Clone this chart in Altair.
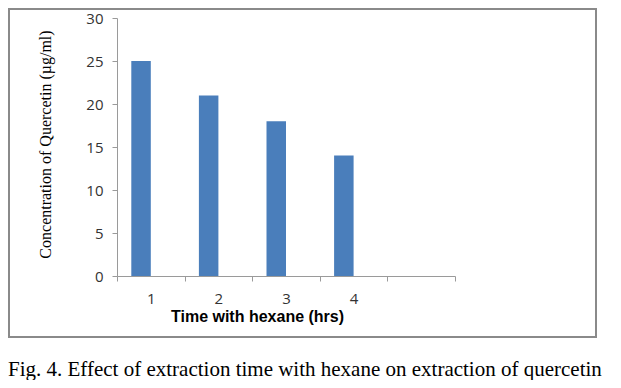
import altair as alt
import pandas as pd

# ---- data ----
categories = ["1", "2", "3", "4"]
values = [25, 21, 18, 14]
x_domain = ["1", "2", "3", "4", ""]
y_ticks = [0, 5, 10, 15, 20, 25, 30]
x_title = "Time with hexane (hrs)"
y_title = "Concentration of Quercetin (µg/ml)"
caption = "Fig. 4. Effect of extraction time with hexane on extraction of quercetin"

df = pd.DataFrame({"time": categories, "conc": values})

W, H = 338, 258
AXIS_GREY = "#9a9a9a"

bars = alt.Chart(df).mark_bar(color="#4A7EBB", width=19.5, xOffset=-9.75).encode(
    x=alt.X(
        "time:N",
        scale=alt.Scale(domain=x_domain, paddingInner=0, paddingOuter=0),
        axis=alt.Axis(
            title=x_title, labelAngle=0, tickBand="extent", tickSize=5, labelPadding=10,
            domainColor=AXIS_GREY, tickColor=AXIS_GREY,
            labelFont="Open Sans", labelFontSize=15, labelColor="#333333",
            titleFont="Liberation Sans", titleFontSize=16, titleFontWeight="bold",
            titleColor="#000000", titleX=140, titleY=45, titleAlign="center",
            titleBaseline="alphabetic",
        ),
    ),
    y=alt.Y(
        "conc:Q",
        scale=alt.Scale(domain=[0, 30], nice=False),
        axis=alt.Axis(
            title=y_title, values=y_ticks, grid=False, tickSize=5, labelPadding=9,
            domainColor=AXIS_GREY, tickColor=AXIS_GREY,
            labelFont="Open Sans", labelFontSize=15, labelColor="#333333",
            titleFont="Liberation Serif", titleFontSize=16, titleFontWeight="normal",
            titleColor="#000000", titleAngle=270, titleX=-72, titleY=126,
            titleAlign="center", titleBaseline="middle",
        ),
    ),
)

frame = alt.Chart(pd.DataFrame({"k": [0]})).mark_rect(
    fillOpacity=0, stroke="#8a8a8a", strokeWidth=2
).encode(
    x=alt.value(-108), x2=alt.value(479), y=alt.value(-9), y2=alt.value(319)
)

cap = alt.Chart(pd.DataFrame({"k": [0]})).mark_text(
    align="left", baseline="alphabetic", font="Liberation Serif", fontSize=21, color="#000000"
).encode(
    text=alt.value(caption), x=alt.value(-109), y=alt.value(358)
)

chart = alt.layer(frame, bars, cap).properties(
    width=W,
    height=H,
    padding={"left": 109, "top": 10, "right": 158, "bottom": 104},
    autosize=alt.AutoSizeParams(type="none"),
).configure_view(stroke=None)

chart.save("out.html", embed_options={"renderer": "svg", "actions": False})
